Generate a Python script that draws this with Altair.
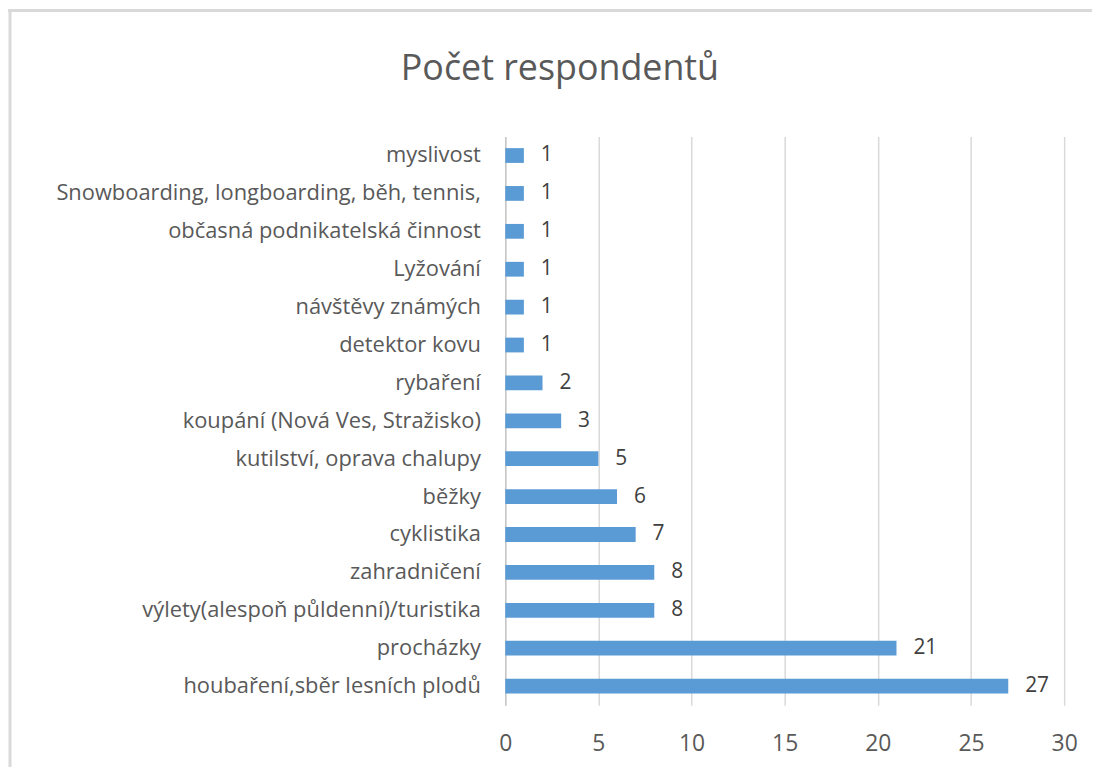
import altair as alt
import pandas as pd

categories = [
    "myslivost",
    "Snowboarding, longboarding, běh, tennis, ",
    "občasná podnikatelská činnost",
    "Lyžování ",
    "návštěvy známých",
    "detektor kovu",
    "rybaření",
    "koupání (Nová Ves, Stražisko)",
    "kutilství, oprava chalupy",
    "běžky",
    "cyklistika",
    "zahradničení",
    "výlety(alespoň půldenní)/turistika",
    "procházky",
    "houbaření,sběr lesních plodů",
]
values = [1, 1, 1, 1, 1, 1, 2, 3, 5, 6, 7, 8, 8, 21, 27]
x_ticks = [0, 5, 10, 15, 20, 25, 30]
title_text = "Počet respondentů"

df = pd.DataFrame({"kategorie": categories, "pocet": values})

FONT = "Open Sans"

y_enc = alt.Y(
    "kategorie:N",
    sort=categories,
    title=None,
    scale=alt.Scale(paddingInner=0.61, paddingOuter=0.31),
    axis=alt.Axis(
        labelFontSize=22,
        labelColor="#595959",
        labelFont=FONT,
        labelPadding=25,
        ticks=False,
        grid=False,
        domain=True,
        domainColor="#C8C8C8",
        domainWidth=1.5,
        labelLimit=700,
    ),
)
x_enc = alt.X(
    "pocet:Q",
    title=None,
    scale=alt.Scale(domain=[0, 30], nice=False),
    axis=alt.Axis(
        values=x_ticks,
        labelFontSize=23,
        labelColor="#595959",
        labelFont=FONT,
        labelPadding=28,
        labelFlush=False,
        ticks=False,
        domain=False,
        grid=True,
        gridColor="#D9D9D9",
        gridWidth=1.5,
    ),
)

bars = alt.Chart(df).mark_bar(color="#5B9BD5").encode(x=x_enc, y=y_enc)
labels = alt.Chart(df).mark_text(
    align="left", baseline="middle", dx=17, fontSize=21, color="#404040", font=FONT
).encode(
    x="pocet:Q",
    y=alt.Y("kategorie:N", sort=categories),
    text="pocet:Q",
)

frame_df = pd.DataFrame({"a": [0]})
border_left = alt.Chart(frame_df).mark_rule(color="#D9D9D9", strokeWidth=3).encode(
    x=alt.value(-498), y=alt.value(-128), y2=alt.value(700)
)
border_top = alt.Chart(frame_df).mark_rule(color="#D9D9D9", strokeWidth=3).encode(
    x=alt.value(-500), x2=alt.value(620), y=alt.value(-126.5)
)
title_df = pd.DataFrame({"t": [title_text]})
title = alt.Chart(title_df).mark_text(
    align="center", baseline="alphabetic", fontSize=36, font=FONT, color="#595959"
).encode(x=alt.value(55), y=alt.value(-57), text="t:N")

chart = (
    alt.layer(border_left, border_top, title, bars, labels)
    .properties(
        width=562,
        height=572,
        background="white",
        autosize=alt.AutoSizeParams(type="none"),
        padding={"left": 500, "top": 127, "right": 28, "bottom": 60},
    )
    .configure_axis(domain=False, ticks=False)
    .configure_view(strokeWidth=0, stroke="transparent")
)

chart.save("out.html", embed_options={"renderer": "svg", "actions": False})
